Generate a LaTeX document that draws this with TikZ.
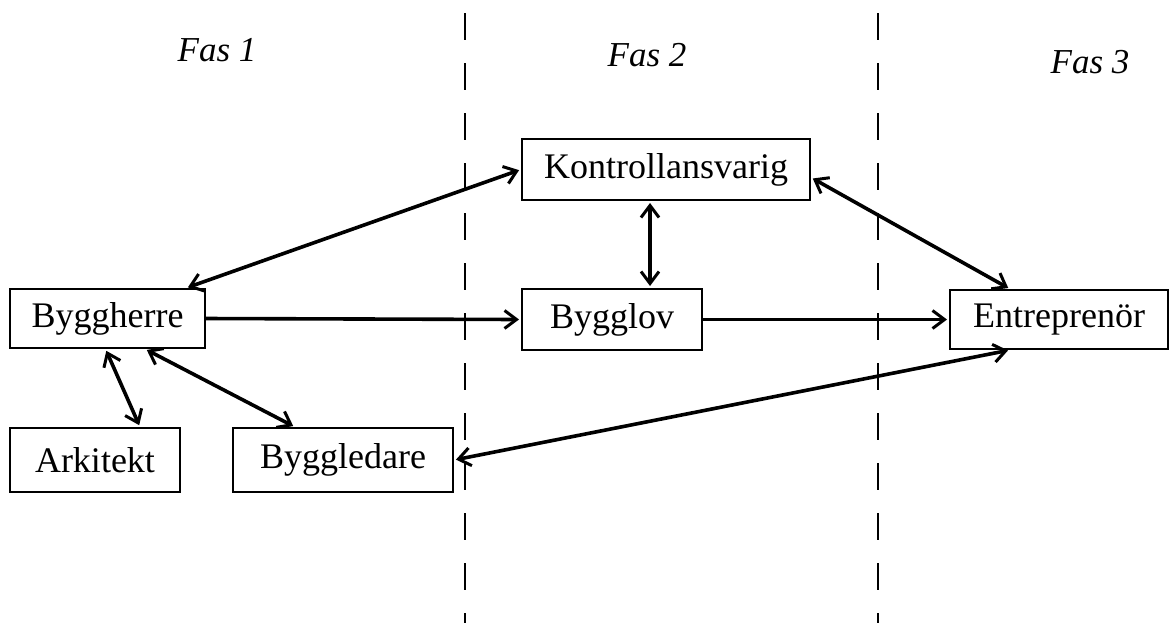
\documentclass[tikz,border=0pt]{standalone}
\usepackage{fontspec}
\setmainfont{Liberation Serif}
\usetikzlibrary{arrows.meta}
\begin{document}
\begin{tikzpicture}[x=0.5pt,y=-0.5pt,
  box/.style={draw,line width=1pt,inner sep=0pt,font=\fontsize{18}{20}\selectfont},
  link/.style={line width=1.8pt,{Straight Barb[length=6pt,width=9pt,line width=1.5pt]}-{Straight Barb[length=6pt,width=9pt,line width=1.5pt]},shorten <=1pt,shorten >=1pt},
  onearrow/.style={line width=1.8pt,-{Straight Barb[length=6pt,width=9pt,line width=1.5pt]},shorten >=1pt},
  phase/.style={font=\fontsize{17.5}{20}\selectfont\itshape},
  divider/.style={line width=1pt,dash pattern=on 13.5pt off 11.5pt}]
\useasboundingbox (0,0) rectangle (1171,623);
\fill[white] (0,0) rectangle (1171,623);
% phase dividers
\coordinate (d1t) at (465,13);
\coordinate (d1b) at (465,623);
\coordinate (d2t) at (878,13);
\coordinate (d2b) at (878,623);
\draw[divider] (d1t) -- (d1b);
\draw[divider] (d2t) -- (d2b);
% phase labels
\node[phase] (f1) at (217,50) {Fas 1};
\node[phase] (f2) at (647,55) {Fas 2};
\node[phase] (f3) at (1090,62) {Fas 3};
% boxes
\node[box,minimum width=144pt,minimum height=30.5pt] (kl) at (666,169.5) {Kontrollansvarig};
\node[box,minimum width=97.5pt,minimum height=29.5pt] (bh) at (107.5,318.5) {Byggherre};
\node[box,minimum width=90pt,minimum height=30.5pt] (bl) at (612,319.5) {Bygglov};
\node[box,minimum width=109pt,minimum height=29.5pt] (ep) at (1059,319.5) {Entreprenör};
\node[box,minimum width=85pt,minimum height=32pt] (ar) at (95,460) {Arkitekt};
\node[box,minimum width=110pt,minimum height=32pt] (bg) at (343,460) {Byggledare};
% connectors
\draw[link] ([xshift=-10pt]bh.north east) -- (kl.west);
\draw[link] ([xshift=-8pt]kl.south) -- ([xshift=-8pt]kl.south |- bl.north);
\draw[link] ([yshift=-4pt]kl.east) -- ([xshift=-24.5pt]ep.north);
\draw[onearrow] (bh.east) -- (bl.west);
\draw[onearrow] (bl.east) -- (ep.west);
\draw[link] ([xshift=-1pt]bh.south) -- ([xshift=22.5pt]ar.north);
\draw[link] ([xshift=18.75pt]bh.south) -- ([xshift=-24pt]bg.north);
\draw[link] (bg.east) -- ([xshift=-24.5pt]ep.south);
\end{tikzpicture}
\end{document}
